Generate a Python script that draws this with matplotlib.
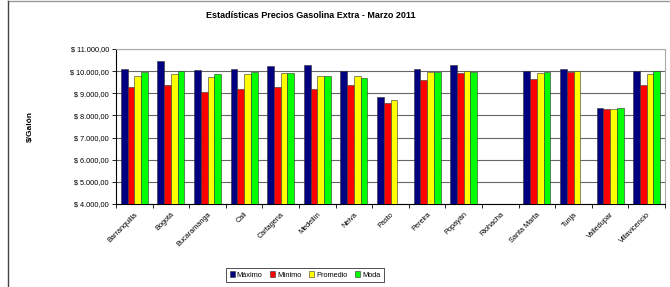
import numpy as np
import matplotlib
matplotlib.use('Agg')
import matplotlib.pyplot as plt
from matplotlib.lines import Line2D
from matplotlib.ticker import FuncFormatter

plt.rcParams['font.family'] = ['Liberation Sans', 'DejaVu Sans']

ciudades = ['Barranquilla', 'Bogotá', 'Bucaramanga', 'Cali', 'Cartagena', 'Medellín',
            'Neiva', 'Pasto', 'Pereira', 'Popayán', 'Riohacha', 'Santa Marta', 'Tunja',
            'Valledupar', 'Villavicencio']
nan = np.nan
maximo = [10100, 10480, 10030, 10100, 10210, 10260, 10020, 8840, 10110, 10300, nan, 10020, 10110, 8350, 10020]
minimo = [9280, 9380, 9070, 9210, 9290, 9200, 9380, 8570, 9610, 9930, nan, 9660, 9970, 8300, 9380]
promedio = [9780, 9850, 9750, 9880, 9920, 9790, 9790, 8700, 9970, 10020, nan, 9920, 10020, 8300, 9850]
moda = [9970, 10010, 9880, 9970, 9920, 9790, 9700, nan, 9970, 9970, nan, 9970, nan, 8350, 10020]

series = [('Máximo', maximo, '#000080'), ('Mínimo', minimo, '#ff0000'),
          ('Promedio', promedio, '#ffff00'), ('Moda', moda, '#00ff00')]

fig = plt.figure(figsize=(6.7, 2.87), dpi=100)
ax = fig.add_axes([116 / 670, 1 - 204 / 287, (665 - 116) / 670, (204 - 49) / 287])

x = np.arange(len(ciudades))
w = 0.185
for i, (name, vals, color) in enumerate(series):
    ax.bar(x + (i - 1.5) * w, vals, w, bottom=0, color=color, edgecolor='#333333',
           linewidth=0.4, label=name, zorder=3)

ax.set_ylim(4000, 11000)
ax.set_xlim(-0.5, len(ciudades) - 0.5)
ax.set_yticks(np.arange(4000, 11001, 1000))
ax.yaxis.set_major_formatter(FuncFormatter(lambda v, p: '$ ' + f'{v:,.2f}'.replace(',', 'X').replace('.', ',').replace('X', '.')))
ax.grid(axis='y', color='#666666', linewidth=0.8, zorder=0)
ax.set_xticks(x)
ax.set_xticklabels(ciudades, rotation=45, ha='right', rotation_mode='anchor', fontsize=5.3)
ax.set_xticks(np.arange(-0.5, len(ciudades), 1), minor=True)
ax.tick_params(axis='x', which='major', length=0, pad=5)
ax.tick_params(axis='x', which='minor', length=3, width=0.6)
ax.tick_params(axis='y', labelsize=5.3, length=3, width=0.6, pad=2)
ax.spines['left'].set_color('black')
ax.spines['bottom'].set_color('black')
ax.spines['top'].set_color('#aaaaaa')
ax.spines['right'].set_color('#aaaaaa')
ax.set_ylabel('$/Galón', fontsize=6, fontweight='bold', labelpad=26)

fig.text(311 / 670, 1 - 15 / 287, 'Estadísticas Precios Gasolina Extra - Marzo 2011',
         ha='center', va='center', fontsize=6.5, fontweight='bold')

leg = fig.legend(loc='center', bbox_to_anchor=(305 / 670, 1 - 275 / 287), ncol=4,
                 fontsize=5.3, frameon=True, fancybox=False, edgecolor='black',
                 handlelength=0.7, handleheight=0.7, handletextpad=0.2, columnspacing=1.1,
                 borderpad=0.5)
leg.get_frame().set_linewidth(0.6)

fig.add_artist(Line2D([8 / 670, 1], [1 - 1 / 287, 1 - 1 / 287], color='#999999', linewidth=1))
fig.add_artist(Line2D([8 / 670, 8 / 670], [0, 1 - 1 / 287], color='#444444', linewidth=1))

fig.savefig('out.png', dpi=100)
